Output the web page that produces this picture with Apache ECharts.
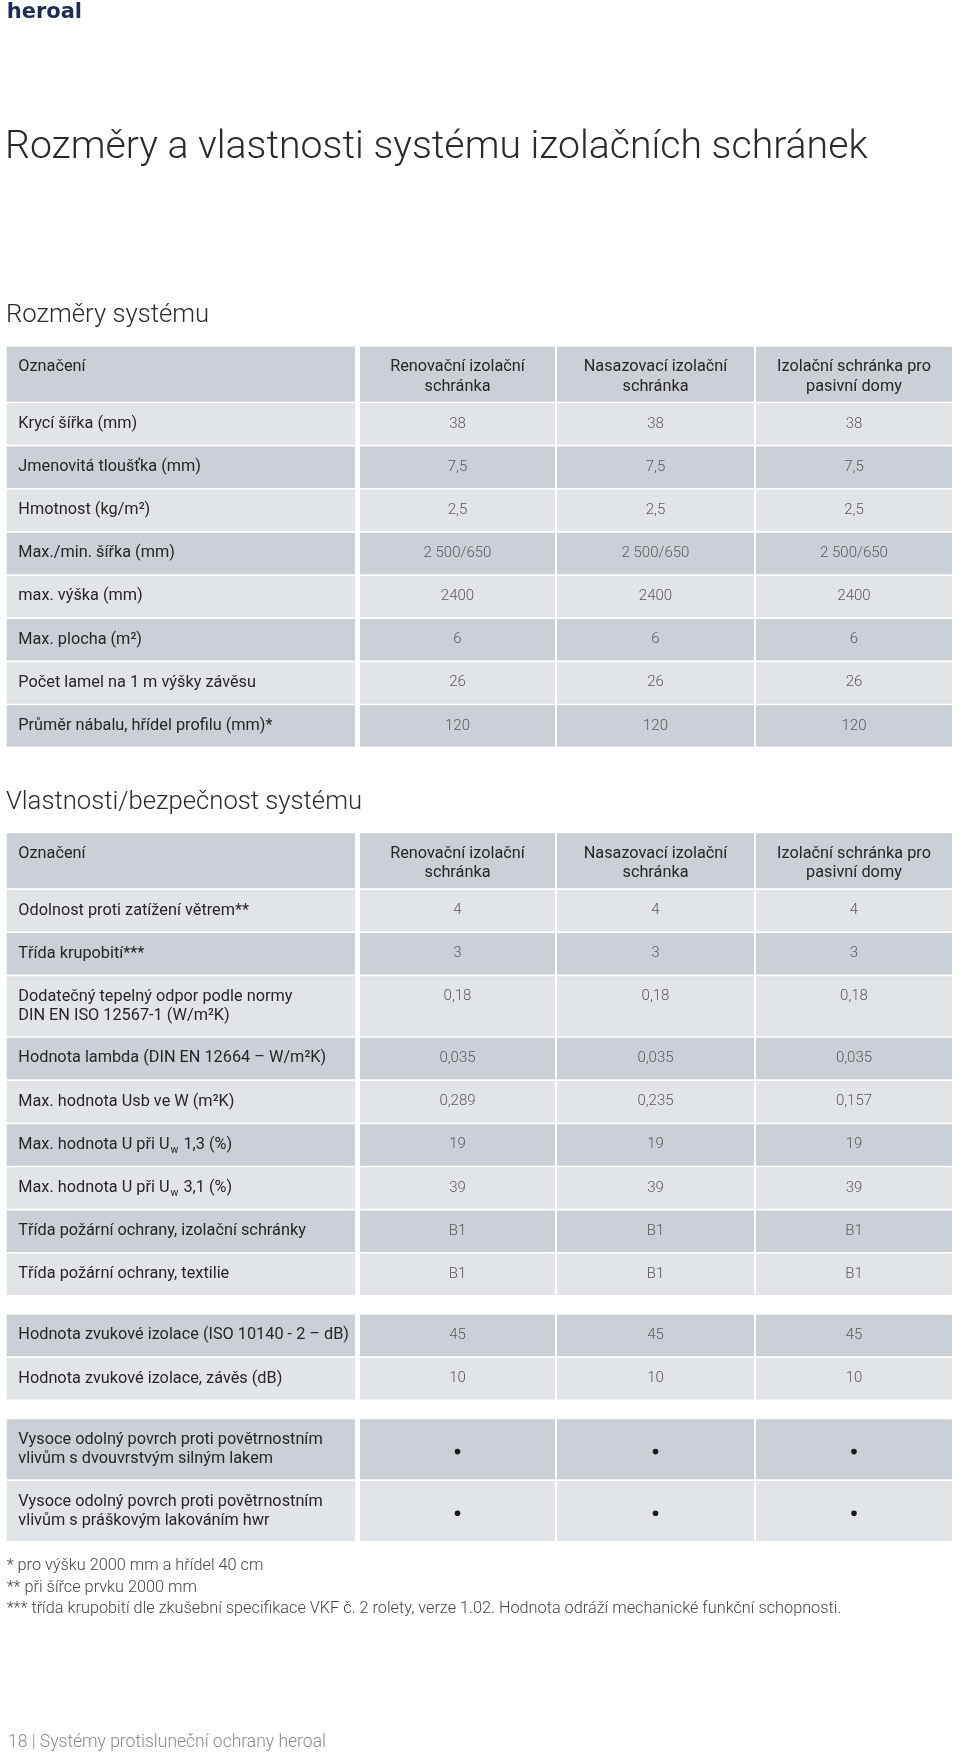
<!DOCTYPE html>
<html><head><meta charset="utf-8">
<script src="https://cdn.jsdelivr.net/npm/echarts@6/dist/echarts.min.js"></script>
<style>html,body{margin:0;padding:0;background:#fff}#c{width:960px;height:1756px}</style>
</head><body><div id="c"></div>
<script>
// ---------- DATA ----------
const logoText = 'heroal';
const pageTitle = 'Rozměry a vlastnosti systému izolačních schránek';
const section1Title = 'Rozměry systému';
const section2Title = 'Vlastnosti/bezpečnost systému';
const headerLabel = 'Označení';
const columnNames = ['Renovační izolační\nschránka', 'Nasazovací izolační\nschránka', 'Izolační schránka pro\npasivní domy'];

const dimLabels = ['Krycí šířka (mm)', 'Jmenovitá tloušťka (mm)', 'Hmotnost (kg/m²)', 'Max./min. šířka (mm)', 'max. výška (mm)', 'Max. plocha (m²)', 'Počet lamel na 1 m výšky závěsu', 'Průměr nábalu, hřídel profilu (mm)*'];
const dimRenovacni = ['38', '7,5', '2,5', '2 500/650', '2400', '6', '26', '120'];
const dimNasazovaci = ['38', '7,5', '2,5', '2 500/650', '2400', '6', '26', '120'];
const dimPasivni = ['38', '7,5', '2,5', '2 500/650', '2400', '6', '26', '120'];

const propLabels = ['Odolnost proti zatížení větrem**', 'Třída krupobití***', 'Dodatečný tepelný odpor podle normy\nDIN EN ISO 12567-1 (W/m²K)', 'Hodnota lambda (DIN EN 12664 – W/m²K)', 'Max. hodnota Usb ve W (m²K)', 'Max. hodnota U při U{w|w} 1,3 (%)', 'Max. hodnota U při U{w|w} 3,1 (%)', 'Třída požární ochrany, izolační schránky', 'Třída požární ochrany, textilie'];
const propRenovacni = ['4', '3', '0,18', '0,035', '0,289', '19', '39', 'B1', 'B1'];
const propNasazovaci = ['4', '3', '0,18', '0,035', '0,235', '19', '39', 'B1', 'B1'];
const propPasivni = ['4', '3', '0,18', '0,035', '0,157', '19', '39', 'B1', 'B1'];

const soundLabels = ['Hodnota zvukové izolace (ISO 10140 - 2 – dB)', 'Hodnota zvukové izolace, závěs (dB)'];
const soundRenovacni = ['45', '10'];
const soundNasazovaci = ['45', '10'];
const soundPasivni = ['45', '10'];

const surfaceLabels = ['Vysoce odolný povrch proti povětrnostním\nvlivům s dvouvrstvým silným lakem', 'Vysoce odolný povrch proti povětrnostním\nvlivům s práškovým lakováním hwr'];
const surfaceRenovacni = ['•', '•'];
const surfaceNasazovaci = ['•', '•'];
const surfacePasivni = ['•', '•'];

const footnotes = ['* pro výšku 2000 mm a hřídel 40 cm', '** při šířce prvku 2000 mm', '*** třída krupobití dle zkušební specifikace VKF č. 2 rolety, verze 1.02. Hodnota odráží mechanické funkční schopnosti.'];
const footerText = '18 | Systémy protisluneční ochrany heroal';

// ---------- LAYOUT ----------
const W = 960, H = 1756;
const colEdges = [[6.7, 355], [360, 555], [557, 754], [756, 952]];
const ROW_H = 41.5, TALL_H = 60, HEAD_H = 55, GAP = 1.64, GROUP_GAP = 19.8;
const LINE_H = 19.5, FIRST_LINE = 20.5;
const DARK = '#cbd0d6', LIGHT = '#e2e5e8';
const FONT = 'Roboto, "Liberation Sans", sans-serif';
const LABEL_SIZE = 16.3, VALUE_SIZE = 15;

const rows = [];
function addGroup(startY, headerRow, labels, c1, c2, c3) {
  let y = startY, idx = 0;
  if (headerRow) {
    rows.push({ top: y, h: HEAD_H, label: headerLabel, values: columnNames, header: true, dark: true });
    y += HEAD_H + GAP; idx = 1;
  }
  labels.forEach((lab, i) => {
    const n = lab.split('\n').length;
    const h = n > 1 ? TALL_H : ROW_H;
    rows.push({ top: y, h, label: lab, values: [c1[i], c2[i], c3[i]], header: false, dark: (idx % 2 === 0) });
    y += h + GAP; idx++;
  });
  return y - GAP;
}
addGroup(346.7, true, dimLabels, dimRenovacni, dimNasazovaci, dimPasivni);
let yEnd = addGroup(833.3, true, propLabels, propRenovacni, propNasazovaci, propPasivni);
yEnd = addGroup(yEnd + GROUP_GAP, false, soundLabels, soundRenovacni, soundNasazovaci, soundPasivni);
yEnd = addGroup(yEnd + GROUP_GAP, false, surfaceLabels, surfaceRenovacni, surfaceNasazovaci, surfacePasivni);

function renderRow(params, api) {
  const r = rows[params.dataIndex];
  const children = [];
  colEdges.forEach((ce, ci) => {
    const p0 = api.coord([ce[0], r.top]);
    const p1 = api.coord([ce[1], r.top + r.h]);
    children.push({ type: 'rect', shape: { x: p0[0], y: p0[1], width: p1[0] - p0[0], height: p1[1] - p0[1] }, style: { fill: r.dark ? DARK : LIGHT } });
    const txt = ci === 0 ? r.label : r.values[ci - 1];
    const nLines = txt.split('\n').length;
    if (txt === '•') {
      const c = api.coord([(ce[0] + ce[1]) / 2, r.top + r.h / 2 + 2.3]);
      children.push({ type: 'circle', shape: { cx: c[0], cy: c[1], r: 2.8 }, style: { fill: '#1b1b1b' } });
      return;
    }
    const ax = ci === 0 ? ce[0] + 11.6 : (ce[0] + ce[1]) / 2;
    const ay = r.top + FIRST_LINE + (nLines - 1) * LINE_H / 2;
    const p = api.coord([ax, ay]);
    const isLabel = ci === 0 || r.header;
    children.push({
      type: 'text', x: p[0], y: p[1],
      style: {
        text: txt,
        fill: isLabel ? '#262626' : '#5a5a5a',
        fontSize: isLabel ? LABEL_SIZE : VALUE_SIZE, fontFamily: FONT, fontWeight: isLabel ? 400 : 300,
        lineHeight: LINE_H,
        align: ci === 0 ? 'left' : 'center', textAlign: ci === 0 ? 'left' : 'center',
        verticalAlign: 'middle', textVerticalAlign: 'middle',
        rich: { w: { fontSize: 10.5, fontFamily: FONT, fill: '#262626', padding: [11, 1, 0, 1] } }
      }
    });
  });
  return { type: 'group', children };
}

function gtext(x, y, text, size, color, weight, family) {
  return { type: 'text', x, y, style: { text, fill: color, fontSize: size, fontWeight: weight, fontFamily: family || FONT, textAlign: 'left', textVerticalAlign: 'middle', align: 'left', verticalAlign: 'middle' } };
}

const graphics = [
  gtext(6.7, 13, logoText, 21, '#1f2b57', 'bold', '"DejaVu Sans", sans-serif'),
  gtext(5, 148, pageTitle, 39.2, '#2a2a2a', 300),
  gtext(6, 316, section1Title, 25.7, '#2a2a2a', 300),
  gtext(6, 803, section2Title, 25.7, '#2a2a2a', 300)
];
footnotes.forEach((f, i) => graphics.push(gtext(6.7, 1566 + i * 21.7, f, 16.3, '#444', 300)));
graphics.push(gtext(8, 1743, footerText, 17.5, '#8a8a8a', 300));

const chart = echarts.init(document.getElementById('c'), null, { renderer: 'canvas', width: W, height: H });
chart.setOption({
  animation: false,
  backgroundColor: '#ffffff',
  grid: { left: 0, top: 0, width: W, height: H },
  xAxis: { type: 'value', min: 0, max: W, show: false },
  yAxis: { type: 'value', min: 0, max: H, inverse: true, show: false },
  graphic: graphics,
  series: [{
    type: 'custom', coordinateSystem: 'cartesian2d', clip: false,
    renderItem: renderRow,
    data: rows.map((r, i) => [i, r.top])
  }]
});
</script>
</body></html>
